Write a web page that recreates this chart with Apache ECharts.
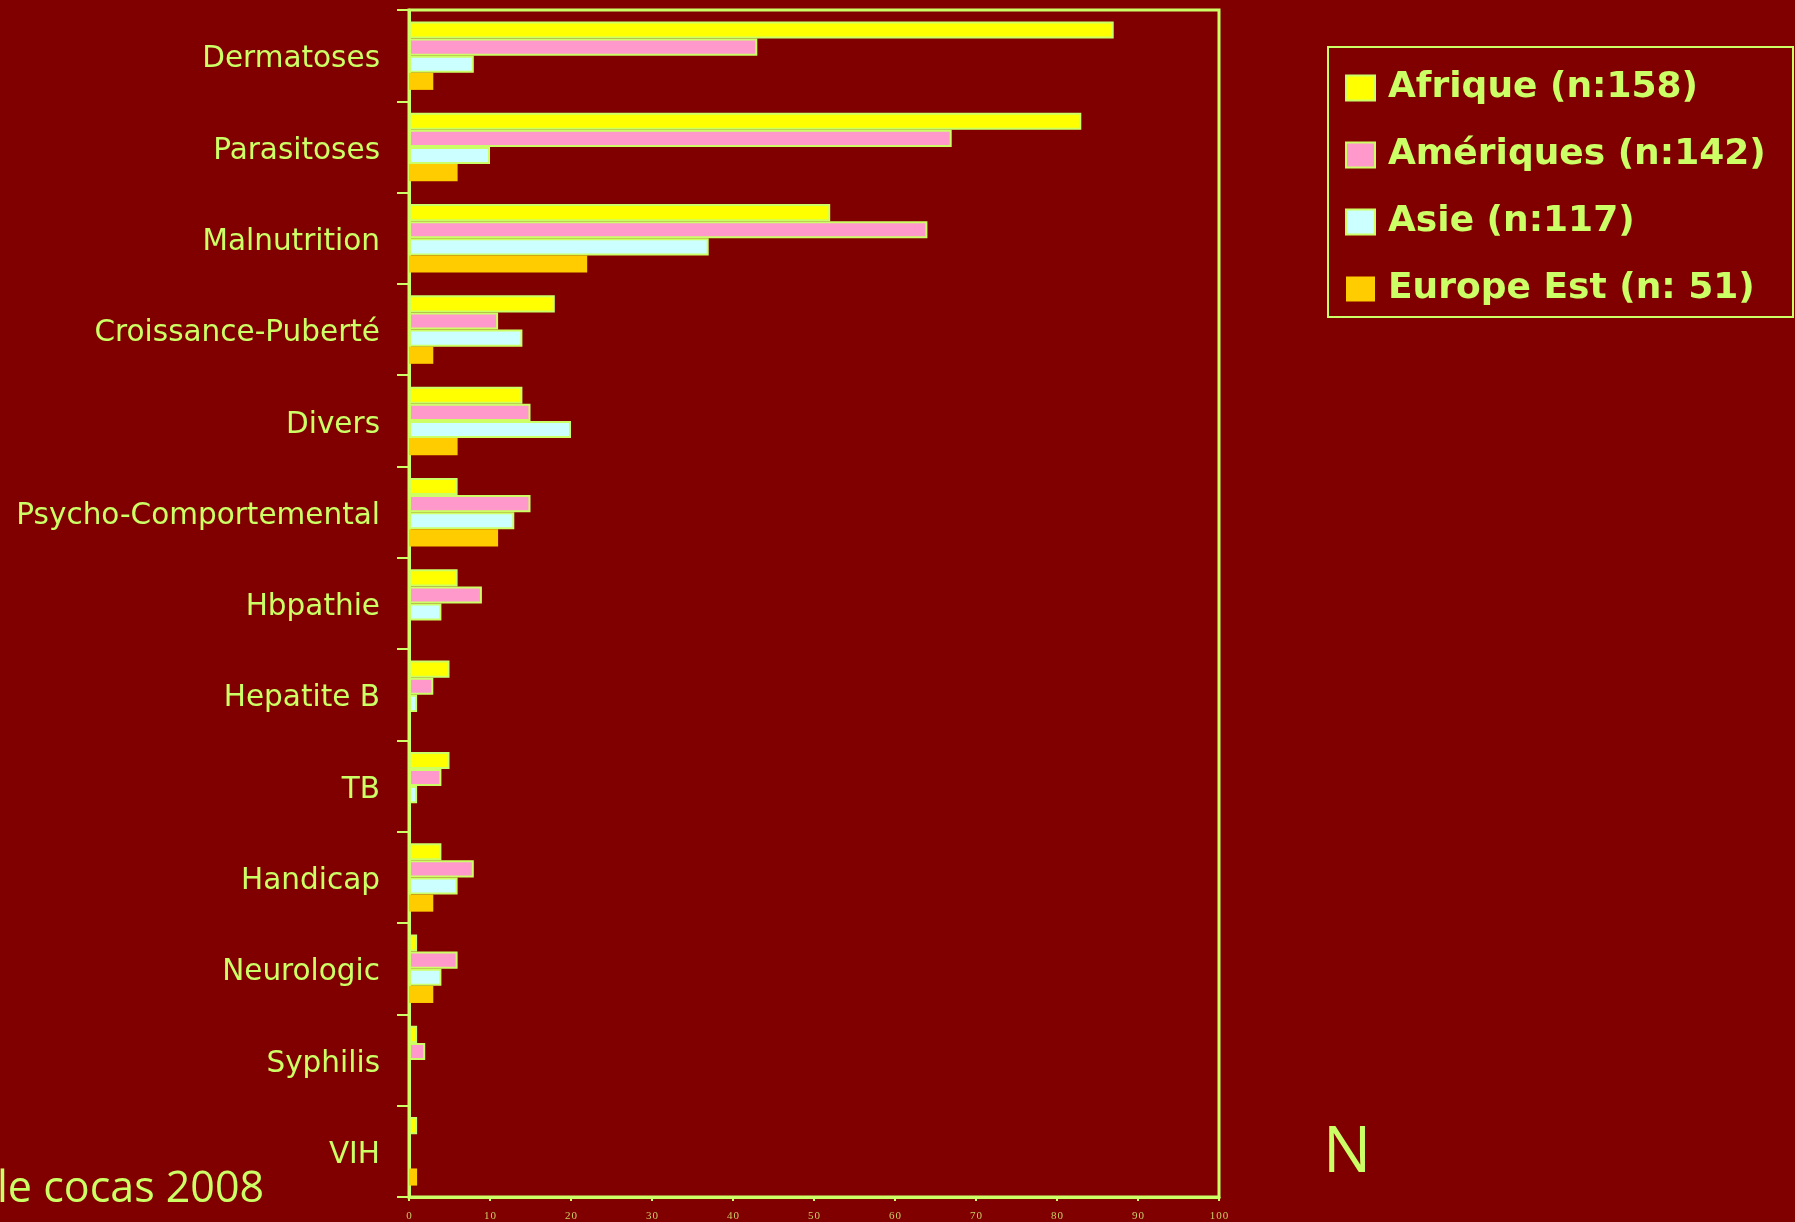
<!DOCTYPE html>
<html>
<head>
<meta charset="utf-8">
<script src="https://cdn.jsdelivr.net/npm/echarts@6/dist/echarts.min.js"></script>
<style>
  html, body { margin: 0; padding: 0; background: #800000; }
  #chart { width: 1795px; height: 1222px; }
</style>
</head>
<body>
<div id="chart"></div>
<script>
// Pathologies by region of origin
const categories = [
  'Dermatoses', 'Parasitoses', 'Malnutrition', 'Croissance-Puberté', 'Divers',
  'Psycho-Comportemental', 'Hbpathie', 'Hepatite B', 'TB', 'Handicap',
  'Neurologic', 'Syphilis', 'VIH'
];
const afrique    = [87, 83, 52, 18, 14, 6, 6, 5, 5, 4, 1, 1, 1];
const ameriques  = [43, 67, 64, 11, 15, 15, 9, 3, 4, 8, 6, 2, 0];
const asie       = [8, 10, 37, 14, 20, 13, 4, 1, 1, 6, 4, 0, 0];
const europeEst  = [3, 6, 22, 3, 6, 11, 0, 0, 0, 3, 3, 0, 1];
const seriesNames = ['Afrique (n:158)', 'Amériques (n:142)', 'Asie (n:117)', 'Europe Est (n: 51)'];
const xTicks = [0, 100, 10];

const INK = '#ccff66';
const chart = echarts.init(document.getElementById('chart'));

function bar(name, data, color, bordered) {
  return {
    name, type: 'bar', data,
    barGap: '0%', barCategoryGap: '25%',
    itemStyle: { color, borderColor: bordered ? INK : color, borderWidth: bordered ? 2 : 0 },
    emphasis: { disabled: true }
  };
}

chart.setOption({
  backgroundColor: '#800000',
  animation: false,
  grid: {
    left: 409, right: 576, top: 10, bottom: 23,
    show: true, borderColor: INK, borderWidth: 3, backgroundColor: 'transparent'
  },
  xAxis: {
    type: 'value', min: xTicks[0], max: xTicks[1], interval: xTicks[2],
    axisLine: { show: true, lineStyle: { color: INK, width: 3 } },
    axisTick: { show: true, length: 4, lineStyle: { color: INK, width: 2 } },
    splitLine: { show: false },
    axisLabel: {
      color: '#cccc66', fontFamily: 'Liberation Serif', fontSize: 11, margin: 14,
      formatter: v => String(v).split('').join('\u200a')
    }
  },
  yAxis: {
    type: 'category', data: categories, inverse: true,
    axisLine: { show: true, lineStyle: { color: INK, width: 3 } },
    axisTick: { show: true, length: 12, alignWithLabel: false, lineStyle: { color: INK, width: 2 } },
    axisLabel: {
      color: INK, fontFamily: 'DejaVu Sans', fontSize: 29.5, margin: 29,
      formatter: v => '{c|' + v + '}',
      rich: { c: { color: INK, fontFamily: 'DejaVu Sans', fontSize: 29.5, padding: [8, 0, 0, 0] } }
    }
  },
  legend: {
    orient: 'vertical', left: 1345, top: 70, padding: 0,
    icon: 'rect', itemWidth: 29, itemHeight: 25, itemGap: 31,
    textStyle: { color: INK, fontFamily: 'DejaVu Sans', fontWeight: 'bold', fontSize: 36, padding: [0, 0, 0, 8] },
    data: seriesNames
  },
  graphic: [
    { type: 'rect', shape: { x: 1328, y: 47, width: 465, height: 270 },
      style: { fill: 'none', stroke: INK, lineWidth: 2 }, silent: true },
    { type: 'text', left: 1323, top: 1122,
      style: { text: 'N', fill: INK, font: '64px "Open Sans"' } },
    { type: 'text', left: -3, top: 1168,
      style: { text: 'le cocas 2008', fill: INK, font: '43px "Open Sans"' } }
  ],
  series: [
    bar(seriesNames[0], afrique, '#ffff00', true),
    bar(seriesNames[1], ameriques, '#ff99cc', true),
    bar(seriesNames[2], asie, '#ccffff', true),
    bar(seriesNames[3], europeEst, '#ffcc00', false)
  ]
});
</script>
</body>
</html>
